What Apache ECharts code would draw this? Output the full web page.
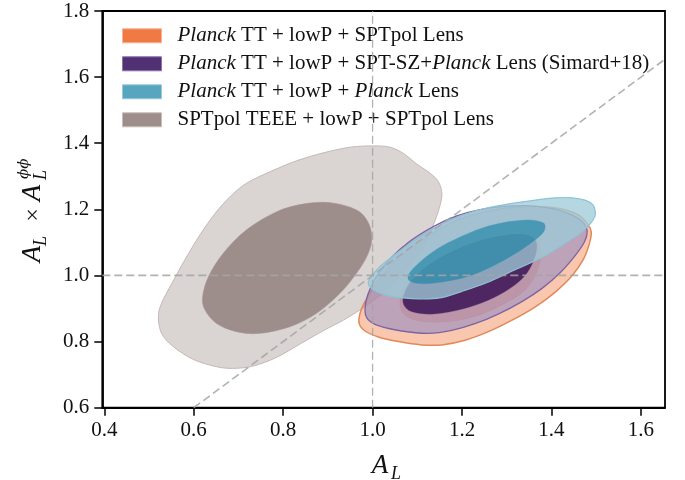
<!DOCTYPE html>
<html>
<head>
<meta charset="utf-8">
<script src="https://cdn.jsdelivr.net/npm/echarts@6/dist/echarts.min.js"></script>
<style>
html,body{margin:0;padding:0;background:#fff;}
#chart{width:685px;height:480px;}
</style>
</head>
<body>
<div id="chart"></div>
<script>
// ---------- data ----------
const seriesNames = [
  'Planck TT + lowP + SPTpol Lens',
  'Planck TT + lowP + SPT-SZ+Planck Lens (Simard+18)',
  'Planck TT + lowP + Planck Lens',
  'SPTpol TEEE + lowP + SPTpol Lens'
];
const legendLabels = [
  '{i|Planck} TT + lowP + SPTpol Lens',
  '{i|Planck} TT + lowP + SPT-SZ+{i|Planck} Lens (Simard+18)',
  '{i|Planck} TT + lowP + {i|Planck} Lens',
  'SPTpol TEEE + lowP + SPTpol Lens'
];
const xTickVals = [0.4, 0.6, 0.8, 1.0, 1.2, 1.4, 1.6];
const yTickVals = [0.6, 0.8, 1.0, 1.2, 1.4, 1.6, 1.8];

// contour outlines [A_L, A_L x A_L^phiphi]
const grayOuter = [[1.002,1.392],[0.950,1.388],[0.890,1.371],[0.830,1.347],[0.771,1.314],[0.718,1.279],[0.681,1.238],[0.648,1.188],[0.614,1.123],[0.580,1.047],[0.551,0.976],[0.528,0.916],[0.521,0.875],[0.528,0.825],[0.554,0.785],[0.599,0.746],[0.651,0.724],[0.689,0.719],[0.733,0.726],[0.785,0.752],[0.838,0.793],[0.890,0.833],[0.935,0.865],[0.972,0.896],[1.009,0.931],[1.047,0.976],[1.084,1.032],[1.114,1.087],[1.136,1.153],[1.150,1.208],[1.155,1.248],[1.147,1.284],[1.129,1.309],[1.099,1.337],[1.069,1.369],[1.039,1.388]];
const grayInner = [[0.905,1.220],[0.964,1.198],[0.991,1.158],[0.998,1.107],[0.987,1.057],[0.964,1.007],[0.927,0.946],[0.875,0.886],[0.815,0.845],[0.748,0.825],[0.696,0.830],[0.651,0.855],[0.625,0.896],[0.620,0.936],[0.633,0.996],[0.666,1.067],[0.718,1.138],[0.786,1.193],[0.845,1.216]];
const orangeOuter = [[0.970,0.855],[0.983,0.832],[1.013,0.814],[1.058,0.800],[1.110,0.790],[1.155,0.790],[1.207,0.804],[1.259,0.830],[1.311,0.864],[1.364,0.905],[1.408,0.949],[1.446,0.999],[1.472,1.050],[1.485,1.097],[1.489,1.132],[1.481,1.155],[1.460,1.183],[1.423,1.201],[1.379,1.208],[1.319,1.206],[1.259,1.195],[1.200,1.173],[1.147,1.138],[1.095,1.092],[1.043,1.032],[1.006,0.971],[0.983,0.921],[0.972,0.886]];
const orangeInner = [[1.377,1.072],[1.367,1.011],[1.341,0.956],[1.296,0.916],[1.237,0.880],[1.177,0.862],[1.118,0.860],[1.077,0.875],[1.062,0.906],[1.065,0.941],[1.084,0.986],[1.121,1.037],[1.173,1.080],[1.233,1.112],[1.293,1.130],[1.341,1.132],[1.369,1.112]];
const purpleOuter = [[0.983,0.896],[0.989,0.868],[1.013,0.848],[1.065,0.832],[1.125,0.825],[1.177,0.834],[1.229,0.854],[1.282,0.884],[1.334,0.921],[1.379,0.961],[1.420,1.009],[1.453,1.060],[1.474,1.102],[1.480,1.132],[1.474,1.155],[1.457,1.175],[1.427,1.193],[1.390,1.205],[1.345,1.211],[1.293,1.209],[1.241,1.199],[1.188,1.180],[1.136,1.148],[1.084,1.104],[1.039,1.050],[1.007,0.993],[0.989,0.941]];
const purpleInner = [[1.367,1.077],[1.356,1.032],[1.334,0.989],[1.296,0.951],[1.244,0.917],[1.185,0.893],[1.132,0.883],[1.088,0.890],[1.069,0.913],[1.071,0.946],[1.088,0.986],[1.125,1.032],[1.177,1.072],[1.237,1.104],[1.296,1.122],[1.341,1.124],[1.364,1.107]];
const blueOuter = [[1.498,1.195],[1.492,1.215],[1.475,1.228],[1.446,1.235],[1.408,1.235],[1.364,1.228],[1.311,1.218],[1.259,1.205],[1.207,1.185],[1.155,1.155],[1.103,1.114],[1.054,1.067],[1.017,1.027],[0.994,0.991],[0.992,0.969],[1.013,0.949],[1.050,0.935],[1.103,0.929],[1.150,0.932],[1.200,0.952],[1.255,0.978],[1.315,1.015],[1.375,1.052],[1.427,1.094],[1.465,1.128],[1.488,1.158],[1.497,1.178]];
const blueInner = [[1.386,1.148],[1.379,1.161],[1.349,1.168],[1.296,1.161],[1.244,1.143],[1.192,1.114],[1.144,1.080],[1.103,1.037],[1.080,1.001],[1.086,0.981],[1.118,0.975],[1.170,0.983],[1.222,1.001],[1.274,1.032],[1.319,1.066],[1.356,1.100],[1.380,1.127]];

// reference lines
const refVertical = [[1.0, 0.6], [1.0, 1.8]];
const refHorizontal = [[0.3955, 1.0], [1.654, 1.0]];
const refDiagonal = [[0.6, 0.6], [1.654, 1.654]];

// ---------- chart ----------
const serif = 'Liberation Serif';
const chart = echarts.init(document.getElementById('chart'), null, {renderer: 'canvas'});

// closed smooth outline through the projected points (Catmull-Rom as cubic Beziers)
function closedCurve(pts) {
  const n = pts.length;
  const f = v => v.toFixed(2);
  let d = 'M' + f(pts[0][0]) + ' ' + f(pts[0][1]);
  for (let i = 0; i < n; i++) {
    const p0 = pts[(i - 1 + n) % n], p1 = pts[i], p2 = pts[(i + 1) % n], p3 = pts[(i + 2) % n];
    const c1x = p1[0] + (p2[0] - p0[0]) / 6, c1y = p1[1] + (p2[1] - p0[1]) / 6;
    const c2x = p2[0] - (p3[0] - p1[0]) / 6, c2y = p2[1] - (p3[1] - p1[1]) / 6;
    d += ' C' + f(c1x) + ' ' + f(c1y) + ' ' + f(c2x) + ' ' + f(c2y) + ' ' + f(p2[0]) + ' ' + f(p2[1]);
  }
  return d + ' Z';
}

function contourSeries(name, levels, styles, color, z) {
  return {
    type: 'custom',
    name: name,
    coordinateSystem: 'cartesian2d',
    silent: true,
    z: z,
    itemStyle: {color: color},
    data: levels.map(() => [1, 1]),
    renderItem: function (params, api) {
      const pts = levels[params.dataIndex].map(p => api.coord(p));
      return {
        type: 'path',
        shape: {pathData: closedCurve(pts)},
        style: styles[params.dataIndex]
      };
    }
  };
}

const legendColors = ['#F07A43', '#513174', '#58A5C0', '#9E8E8B'];
const legendBorders = ['#F7B394', '#8A74A8', '#9BCBDA', '#C9BDBA'];

const option = {
  animation: false,
  grid: {left: 102.3, right: 20, top: 11, bottom: 72.3, show: true, borderColor: '#000', borderWidth: 1.8, containLabel: false},
  xAxis: {
    type: 'value', min: 0.3955, max: 1.654,
    splitLine: {show: false},
    axisLine: {lineStyle: {color: '#000', width: 1.8}},
    axisTick: {customValues: xTickVals, length: 8, lineStyle: {color: '#000', width: 1.5}},
    axisLabel: {customValues: xTickVals, formatter: v => v.toFixed(1), fontFamily: serif, fontSize: 21, color: '#111', margin: 12}
  },
  yAxis: {
    type: 'value', min: 0.6, max: 1.8, interval: 0.2,
    splitLine: {show: false},
    axisLine: {lineStyle: {color: '#000', width: 1.8}},
    axisTick: {length: 8, lineStyle: {color: '#000', width: 1.5}},
    axisLabel: {formatter: v => v.toFixed(1), fontFamily: serif, fontSize: 21, color: '#111', margin: 13}
  },
  legend: {
    orient: 'vertical', left: 122, top: 25.3, padding: 0,
    itemWidth: 39, itemHeight: 14, itemGap: 7,
    selectedMode: false, icon: 'rect',
    data: seriesNames.map((n, i) => ({name: n, itemStyle: {color: legendColors[i], borderColor: legendBorders[i], borderWidth: 1}})),
    formatter: function (name) { return legendLabels[seriesNames.indexOf(name)]; },
    textStyle: {fontFamily: serif, fontSize: 21, color: '#111', lineHeight: 20, padding: [0, 0, 0, 11],
      rich: {i: {fontFamily: serif, fontSize: 21, fontStyle: 'italic', color: '#111', lineHeight: 20}}}
  },
  series: [
    contourSeries(seriesNames[3], [grayOuter, grayInner], [
      {fill: '#DAD4D3', stroke: '#C4B8B6', lineWidth: 1},
      {fill: '#9E8E8B', stroke: '#A39491', lineWidth: 0.6}
    ], legendColors[3], 1),
    contourSeries(seriesNames[0], [orangeOuter, orangeInner], [
      {fill: 'rgba(240,122,67,0.43)', stroke: '#E2895A', lineWidth: 1.5},
      {fill: 'rgba(240,122,67,0.43)', stroke: 'rgba(226,137,90,0.55)', lineWidth: 0.8}
    ], legendColors[0], 2),
    contourSeries(seriesNames[1], [purpleOuter, purpleInner], [
      {fill: 'rgba(150,140,195,0.6)', stroke: '#7C64A3', lineWidth: 1.3},
      {fill: 'rgba(59,19,85,0.85)', stroke: 'rgba(110,80,140,0.5)', lineWidth: 0.6}
    ], legendColors[1], 3),
    contourSeries(seriesNames[2], [blueOuter, blueInner], [
      {fill: 'rgba(157,203,216,0.77)', stroke: '#8CC4D4', lineWidth: 1.2},
      {fill: 'rgba(15,127,162,0.6)', stroke: 'rgba(70,150,180,0.5)', lineWidth: 0.6}
    ], legendColors[2], 4),
    {type: 'line', data: refVertical, symbol: 'none', silent: true, z: 6,
      lineStyle: {color: 'rgba(165,165,165,0.85)', width: 1.3, type: [8, 4]}},
    {type: 'line', data: refHorizontal, symbol: 'none', silent: true, z: 6,
      lineStyle: {color: 'rgba(165,165,165,0.85)', width: 1.8, type: [8, 4]}},
    {type: 'line', data: refDiagonal, symbol: 'none', silent: true, z: 6,
      lineStyle: {color: 'rgba(165,165,165,0.85)', width: 1.6, type: [8, 4]}}
  ],
  graphic: [
    {type: 'text', x: 380, y: 466, style: {text: 'A', font: 'italic 27px "Liberation Serif"', fill: '#111', align: 'center', verticalAlign: 'middle'}},
    {type: 'text', x: 396, y: 474, style: {text: 'L', font: 'italic 18px "Liberation Serif"', fill: '#111', align: 'center', verticalAlign: 'middle'}},
    {type: 'group', x: 34, y: 208, rotation: Math.PI / 2, children: [
      {type: 'text', x: -46, y: -1, style: {text: 'A', font: 'italic 27px "Liberation Serif"', fill: '#111', align: 'center', verticalAlign: 'middle'}},
      {type: 'text', x: -33, y: 7, style: {text: 'L', font: 'italic 18px "Liberation Serif"', fill: '#111', align: 'center', verticalAlign: 'middle'}},
      {type: 'text', x: -7, y: 0, style: {text: '×', font: '24px "Liberation Serif"', fill: '#111', align: 'center', verticalAlign: 'middle'}},
      {type: 'text', x: 15, y: -1, style: {text: 'A', font: 'italic 27px "Liberation Serif"', fill: '#111', align: 'center', verticalAlign: 'middle'}},
      {type: 'text', x: 28, y: 7, style: {text: 'L', font: 'italic 18px "Liberation Serif"', fill: '#111', align: 'left', verticalAlign: 'middle'}},
      {type: 'text', x: 29, y: -10, style: {text: 'ϕϕ', font: 'italic 15px "DejaVu Serif"', fill: '#111', align: 'left', verticalAlign: 'middle'}}
    ]}
  ]
};
chart.setOption(option);
</script>
</body>
</html>
